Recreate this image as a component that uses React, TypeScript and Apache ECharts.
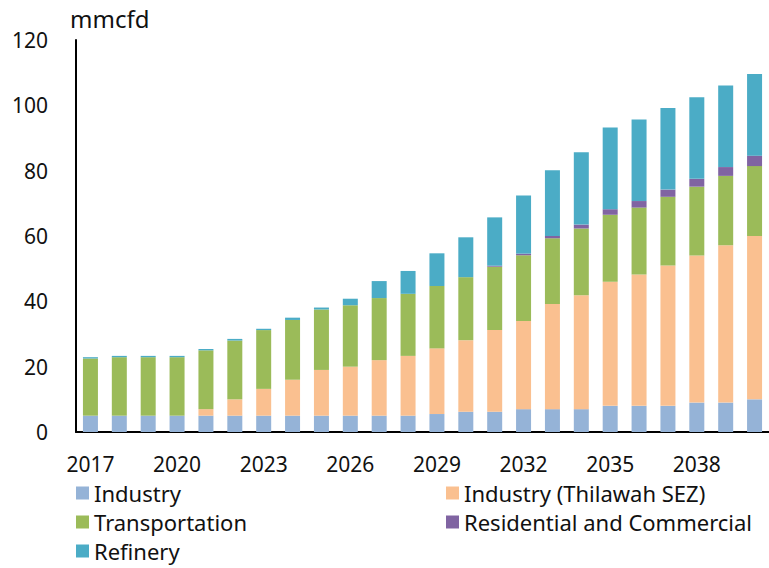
import React, { useEffect, useRef } from "react";
import * as echarts from "echarts";

// Natural gas demand outlook by sector (mmcfd), 2017–2040
const years = [
  "2017", "2018", "2019", "2020", "2021", "2022", "2023", "2024",
  "2025", "2026", "2027", "2028", "2029", "2030", "2031", "2032",
  "2033", "2034", "2035", "2036", "2037", "2038", "2039", "2040",
];

const industry = [
  5, 5, 5, 5, 5, 5, 5, 5, 5, 5, 5, 5,
  5.5, 6.2, 6.2, 7, 7, 7, 8, 8, 8, 9, 9, 10,
];

const industrySEZ = [
  0, 0, 0, 0, 2, 5, 8.2, 11, 14, 15, 17, 18.3,
  20.1, 21.9, 25, 27, 32.2, 34.9, 38, 40.2, 43, 45, 48.2, 50,
];

const transportation = [
  17.5, 17.9, 17.9, 17.9, 18, 18, 18, 18.3, 18.5, 18.8, 19, 19,
  19.1, 19.3, 19.4, 20.1, 20.1, 20.4, 20.5, 20.5, 21, 21.1, 21.2, 21.4,
];

const residential = [
  0, 0, 0, 0, 0, 0, 0, 0, 0, 0, 0, 0,
  0, 0, 0.3, 0.5, 0.7, 1.2, 1.7, 2, 2.2, 2.4, 2.7, 3.2,
];

const refinery = [
  0.4, 0.4, 0.4, 0.4, 0.4, 0.5, 0.4, 0.7, 0.6, 2, 5.2, 7,
  10, 12.2, 14.8, 17.8, 20.1, 22.1, 25, 25, 25, 25, 25, 25,
];

const yTicks = { min: 0, max: 120, interval: 20 };

const FONT = "Noto Sans";
const TEXT = "#111";

export default function App() {
  const ref = useRef<HTMLDivElement>(null);

  useEffect(() => {
    document.body.style.margin = "0";
    if (!ref.current) return;
    const chart = echarts.init(ref.current, null, { renderer: "svg" });

    const bar = (name: string, data: number[], color: string) => ({
      name,
      type: "bar",
      stack: "total",
      data,
      barWidth: 15,
      itemStyle: { color },
      emphasis: { disabled: true },
    });

    const legendCommon = {
      orient: "vertical",
      icon: "rect",
      itemWidth: 13,
      itemHeight: 13,
      itemGap: 5,
      padding: 0,
      height: 90,
      selectedMode: false,
      textStyle: {
        fontFamily: FONT,
        fontSize: 22,
        color: TEXT,
        lineHeight: 24,
      },
    };

    chart.setOption({
      animation: false,
      textStyle: { fontFamily: FONT },
      grid: { left: 76, top: 40, bottom: 136, right: -8, containLabel: false },
      legend: [
        { ...legendCommon, left: 76, top: 481, data: ["Industry", "Transportation", "Refinery"] },
        { ...legendCommon, left: 446, top: 481, data: ["Industry (Thilawah SEZ)", "Residential and Commercial"] },
      ],
      xAxis: {
        type: "category",
        data: years,
        axisLine: { lineStyle: { color: "#000", width: 2 } },
        axisTick: { show: false },
        axisLabel: {
          interval: 2,
          margin: 21,
          fontFamily: FONT,
          fontSize: 21,
          color: TEXT,
        },
      },
      yAxis: {
        type: "value",
        ...yTicks,
        name: "mmcfd",
        nameGap: 10,
        nameTextStyle: { fontFamily: FONT, fontSize: 24, color: TEXT, align: "left", padding: [0, 0, 0, -6] },
        axisLine: { show: true, lineStyle: { color: "#000", width: 2 } },
        axisTick: { show: false },
        splitLine: { show: false },
        axisLabel: { margin: 28, fontFamily: FONT, fontSize: 21, color: TEXT },
      },
      series: [
        bar("Industry", industry, "#95B3D7"),
        bar("Industry (Thilawah SEZ)", industrySEZ, "#FAC090"),
        bar("Transportation", transportation, "#9BBB59"),
        bar("Residential and Commercial", residential, "#8064A2"),
        bar("Refinery", refinery, "#4BACC6"),
      ],
    });

    return () => chart.dispose();
  }, []);

  return <div ref={ref} style={{ width: 769, height: 568, overflow: "hidden" }} />;
}
